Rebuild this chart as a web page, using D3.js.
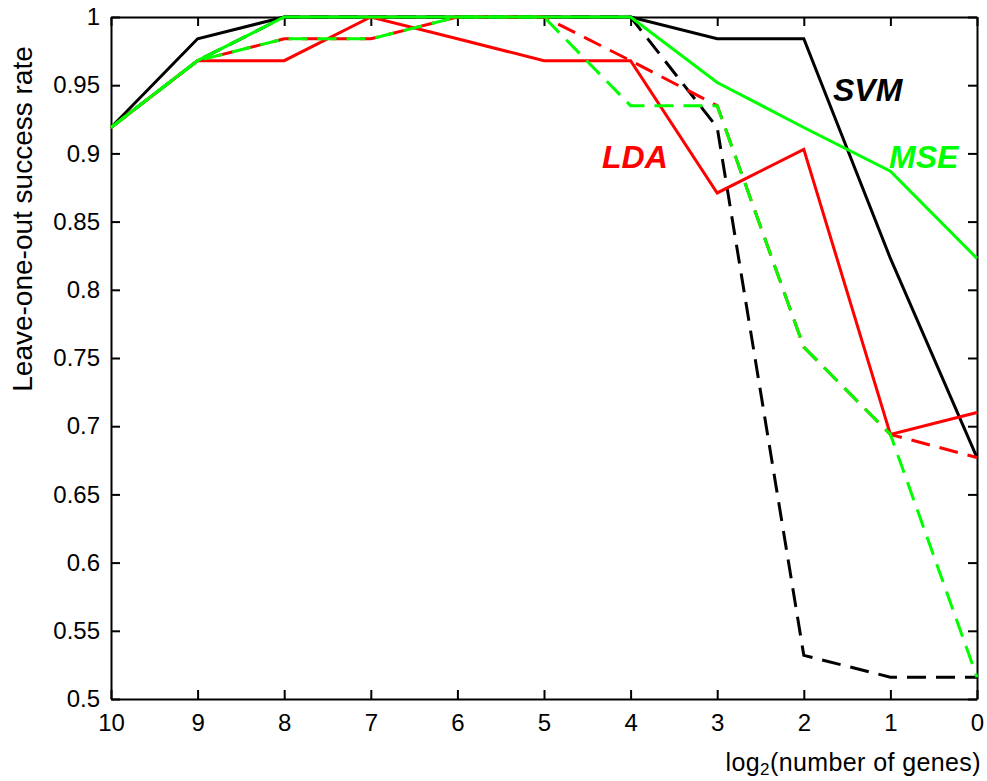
<!DOCTYPE html>
<html>
<head>
<meta charset="UTF-8">
<style>
  body { margin: 0; background: #fff; }
  text { font-family: "Liberation Sans", Arial, sans-serif; }
</style>
</head>
<body>
<div id="chart"></div>
<script src="https://cdn.jsdelivr.net/npm/d3@7"></script>
<script>
var log2Genes = [10, 9, 8, 7, 6, 5, 4, 3, 2, 1, 0];

var svmSolid  = [0.919, 0.984, 1, 1, 1, 1, 1, 0.984, 0.984, 0.823, 0.677];
var svmDashed = [0.919, 0.968, 1, 1, 1, 1, 1, 0.919, 0.532, 0.516, 0.516];
var ldaSolid  = [0.919, 0.968, 0.968, 1, 0.984, 0.968, 0.968, 0.871, 0.903, 0.694, 0.710];
var ldaDashed = [0.919, 0.968, 0.984, 0.984, 1, 1, 0.968, 0.935, 0.758, 0.694, 0.677];
var mseSolid  = [0.919, 0.968, 1, 1, 1, 1, 1, 0.952, 0.919, 0.887, 0.823];
var mseDashed = [0.919, 0.968, 0.984, 0.984, 1, 1, 0.935, 0.935, 0.758, 0.694, 0.516];

var yTicks = [0.5, 0.55, 0.6, 0.65, 0.7, 0.75, 0.8, 0.85, 0.9, 0.95, 1];

var width = 987, height = 781,
    margin = {top: 17, right: 10, bottom: 82, left: 111};

var svg = d3.select("#chart").append("svg")
    .attr("width", width)
    .attr("height", height);

var x = d3.scaleLinear().domain([10, 0]).range([margin.left, width - margin.right]);
var y = d3.scaleLinear().domain([0.5, 1]).range([height - margin.bottom, margin.top]);

var fmt = function(d) { return d3.format("")(d); };

// axes, ticks pointing inward on all four sides
svg.append("g")
    .attr("transform", "translate(0," + (height - margin.bottom) + ")")
    .call(d3.axisBottom(x).tickValues(log2Genes).tickSizeInner(-9).tickSizeOuter(0).tickPadding(15).tickFormat(fmt));
svg.append("g")
    .attr("transform", "translate(0," + margin.top + ")")
    .call(d3.axisTop(x).tickValues(log2Genes).tickSizeInner(-9).tickSizeOuter(0).tickFormat(""));
svg.append("g")
    .attr("transform", "translate(" + margin.left + ",0)")
    .call(d3.axisLeft(y).tickValues(yTicks).tickSizeInner(-9).tickSizeOuter(0).tickPadding(11).tickFormat(fmt));
svg.append("g")
    .attr("transform", "translate(" + (width - margin.right) + ",0)")
    .call(d3.axisRight(y).tickValues(yTicks).tickSizeInner(-9).tickSizeOuter(0).tickFormat(""));

svg.selectAll(".domain, .tick line")
    .attr("stroke", "#000")
    .attr("stroke-width", 2);
svg.selectAll(".tick text")
    .attr("fill", "#000")
    .style("font-size", "24px");

var line = d3.line()
    .x(function(d, i) { return x(log2Genes[i]); })
    .y(function(d) { return y(d); });

var dash = "19,10";

var series = [
    {values: svmSolid,  color: "#000000", dash: null},
    {values: svmDashed, color: "#000000", dash: dash},
    {values: ldaSolid,  color: "#ff0000", dash: null},
    {values: ldaDashed, color: "#ff0000", dash: dash},
    {values: mseSolid,  color: "#00ff00", dash: null},
    {values: mseDashed, color: "#00ff00", dash: dash}
];

var paths = svg.selectAll(".series")
    .data(series)
    .enter()
    .append("path")
    .attr("class", "series")
    .attr("d", function(d) { return line(d.values); })
    .attr("fill", "none")
    .attr("stroke", function(d) { return d.color; })
    .attr("stroke-width", 3)
    .attr("stroke-dasharray", function(d) { return d.dash; });

// the two dashed curves share the route after x=3: line their dashes up there
var tmp = svg.append("path");
function lenTo(vals, n) {
    tmp.attr("d", line(vals.slice(0, n)));
    return tmp.node().getTotalLength();
}
var shift = lenTo(mseDashed, 8) - lenTo(ldaDashed, 8);
tmp.remove();
paths.filter(function(d) { return d.values === ldaDashed; })
    .attr("stroke-dashoffset", shift);

// method labels
var labels = [
    {text: "SVM", color: "#000000", x: 833, y: 101},
    {text: "LDA", color: "#ff0000", x: 602, y: 168},
    {text: "MSE", color: "#00ff00", x: 889, y: 168}
];
svg.selectAll(".method")
    .data(labels)
    .enter()
    .append("text")
    .attr("class", "method")
    .attr("x", function(d) { return d.x; })
    .attr("y", function(d) { return d.y; })
    .attr("fill", function(d) { return d.color; })
    .style("font-size", "32px")
    .style("font-weight", "bold")
    .style("font-style", "italic")
    .text(function(d) { return d.text; });

// axis titles
var xl = svg.append("text")
    .attr("x", 981)
    .attr("y", 771)
    .attr("text-anchor", "end")
    .style("font-size", "25px")
    .style("letter-spacing", "0.4px");
xl.append("tspan").text("log");
xl.append("tspan").attr("dy", 4).style("font-size", "17px").text("2");
xl.append("tspan").attr("dy", -4).text("(number of genes)");

svg.append("text")
    .attr("transform", "translate(32,219) rotate(-90)")
    .attr("text-anchor", "middle")
    .style("font-size", "28px")
    .text("Leave-one-out success rate");
</script>
</body>
</html>
